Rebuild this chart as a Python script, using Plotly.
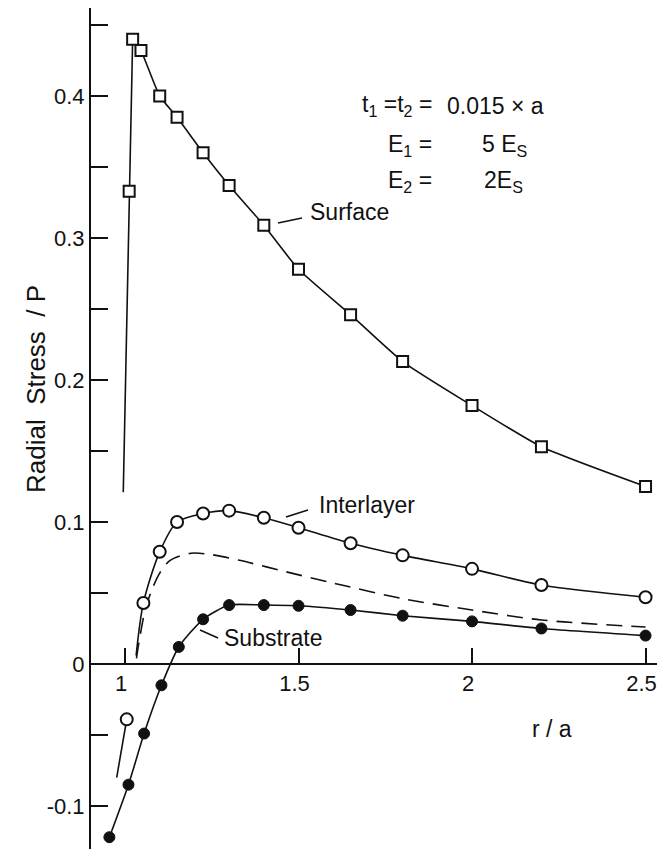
import plotly.graph_objects as go

# ---------------- data ----------------
surface_x = [1.012, 1.022, 1.046, 1.1, 1.15, 1.225, 1.3, 1.4, 1.5, 1.65, 1.8, 2.0, 2.2, 2.5]
surface_y = [0.333, 0.440, 0.432, 0.400, 0.385, 0.360, 0.337, 0.309, 0.278, 0.246, 0.213, 0.182, 0.153, 0.125]
surface_start_x = [0.995]
surface_start_y = [0.121]

interlayer_x = [1.005, 1.053, 1.1, 1.15, 1.225, 1.3, 1.4, 1.5, 1.65, 1.8, 2.0, 2.2, 2.5]
interlayer_y = [-0.039, 0.043, 0.079, 0.100, 0.106, 0.108, 0.103, 0.096, 0.085, 0.0765, 0.067, 0.0556, 0.047]
interlayer_low_start = ([0.976], [-0.080])
interlayer_up_start = ([1.032], [0.006])

substrate_x = [0.955, 1.01, 1.055, 1.105, 1.155, 1.225, 1.3, 1.4, 1.5, 1.65, 1.8, 2.0, 2.2, 2.5]
substrate_y = [-0.122, -0.085, -0.049, -0.015, 0.012, 0.0315, 0.0415, 0.0415, 0.041, 0.038, 0.034, 0.030, 0.025, 0.020]

dashed_x = [1.033, 1.04, 1.058, 1.077, 1.1, 1.13, 1.19, 1.25, 1.33, 1.48, 1.6, 1.8, 2.0, 2.2, 2.5]
dashed_y = [0.004, 0.015, 0.038, 0.052, 0.064, 0.073, 0.078, 0.077, 0.073, 0.064, 0.057, 0.046, 0.038, 0.031, 0.026]

x_ticks = [1, 1.5, 2, 2.5]
x_ticktext = ["1", "1.5", "2", "2.5"]
y_ticks = [-0.1, 0, 0.1, 0.2, 0.3, 0.4]
y_ticktext = ["-0.1", "0", "0.1", "0.2", "0.3", "0.4"]
y_minor = [-0.05, 0.05, 0.15, 0.25, 0.35, 0.45]

# ---------------- layout constants ----------------
W, H = 657, 849
ML, MR, MT, MB = 91, 0, 8, 0
XR = [0.902, 2.533]
YR = [-0.1303, 0.462]
FONT = "Liberation Sans"
BLK = "#111111"

def paper(px, py):
    return (px - ML) / (W - ML - MR), (H - MB - py) / (H - MT - MB)

fig = go.Figure()
line = dict(color=BLK, width=1.6)

# surface
fig.add_trace(go.Scatter(x=surface_start_x + surface_x[:2], y=surface_start_y + surface_y[:2],
                         mode="lines", line=line, hoverinfo="skip"))
fig.add_trace(go.Scatter(x=surface_x[1:], y=surface_y[1:], mode="lines",
                         line=dict(color=BLK, width=1.6, shape="spline", smoothing=0.5), hoverinfo="skip"))
fig.add_trace(go.Scatter(x=surface_x, y=surface_y, mode="markers",
                         marker=dict(symbol="square", size=11, color="white", line=dict(color=BLK, width=2))))

# dashed
fig.add_trace(go.Scatter(x=dashed_x, y=dashed_y, mode="lines",
                         line=dict(color=BLK, width=1.6, dash="16px,9px", shape="spline", smoothing=0.8),
                         hoverinfo="skip"))

# interlayer
fig.add_trace(go.Scatter(x=interlayer_low_start[0] + interlayer_x[:1], y=interlayer_low_start[1] + interlayer_y[:1],
                         mode="lines", line=line, hoverinfo="skip"))
fig.add_trace(go.Scatter(x=interlayer_up_start[0] + interlayer_x[1:], y=interlayer_up_start[1] + interlayer_y[1:],
                         mode="lines", line=dict(color=BLK, width=1.6, shape="spline", smoothing=0.8),
                         hoverinfo="skip"))
fig.add_trace(go.Scatter(x=interlayer_x, y=interlayer_y, mode="markers",
                         marker=dict(symbol="circle", size=12, color="white", line=dict(color=BLK, width=2))))

# substrate
fig.add_trace(go.Scatter(x=substrate_x, y=substrate_y, mode="lines+markers",
                         line=dict(color=BLK, width=1.6, shape="spline", smoothing=0.6),
                         marker=dict(symbol="circle", size=11, color=BLK, line=dict(color=BLK, width=1))))

annotations = []
def text(px, py, s, size=23, xanchor="center", angle=0):
    x, y = paper(px, py)
    annotations.append(dict(x=x, y=y, xref="paper", yref="paper", text=s, showarrow=False,
                            xanchor=xanchor, yanchor="middle", textangle=angle,
                            font=dict(family=FONT, size=size, color=BLK)))

shapes = []
def seg(p0, p1):
    x0, y0 = paper(*p0)
    x1, y1 = paper(*p1)
    shapes.append(dict(type="line", xref="paper", yref="paper", x0=x0, y0=y0, x1=x1, y1=y1,
                       line=dict(color=BLK, width=1.5)))

text(349, 212, "Surface")
seg((278, 223), (302, 218))
text(367, 505, "Interlayer")
seg((286, 517), (308, 510))
text(273, 638, "Substrate")
seg((200, 630), (218, 638))
text(552, 729, "r / a")
text(36, 389, "Radial  Stress  / P", size=26, angle=-90)

text(434, 106, "t<sub>1</sub> =t<sub>2</sub> =", xanchor="right")
text(445, 106, "0.015 × a", xanchor="left")
text(434, 146, "E<sub>1</sub> =", xanchor="right")
text(480, 146, "5 E<sub>S</sub>", xanchor="left")
text(434, 181, "E<sub>2</sub> =", xanchor="right")
text(482, 181, "2E<sub>S</sub>", xanchor="left")

xpos = (0 - YR[0]) / (YR[1] - YR[0])

fig.update_layout(
    width=W, height=H, margin=dict(l=ML, r=MR, t=MT, b=MB, autoexpand=False),
    paper_bgcolor="white", plot_bgcolor="white", showlegend=False,
    annotations=annotations, shapes=shapes,
    font=dict(family=FONT, size=22, color=BLK),
    xaxis=dict(range=XR, showgrid=False, zeroline=False, showline=True, linecolor=BLK, linewidth=2,
               ticks="inside", ticklen=15, tickwidth=1.5, tickcolor=BLK,
               tickvals=x_ticks, ticktext=x_ticktext, anchor="free", position=xpos,
               ticklabeloverflow="allow", automargin=False, ticklabelshift=-4,
               tickfont=dict(family=FONT, size=22, color=BLK)),
    yaxis=dict(range=YR, showgrid=False, zeroline=False, showline=True, linecolor=BLK, linewidth=2,
               ticks="inside", ticklen=17, tickwidth=1.5, tickcolor=BLK,
               tickvals=y_ticks, ticktext=y_ticktext, automargin=False,
               minor=dict(tickvals=y_minor, ticks="inside", ticklen=17, tickwidth=1.5, tickcolor=BLK),
               tickfont=dict(family=FONT, size=22, color=BLK)),
)

fig.write_html("out.html")
